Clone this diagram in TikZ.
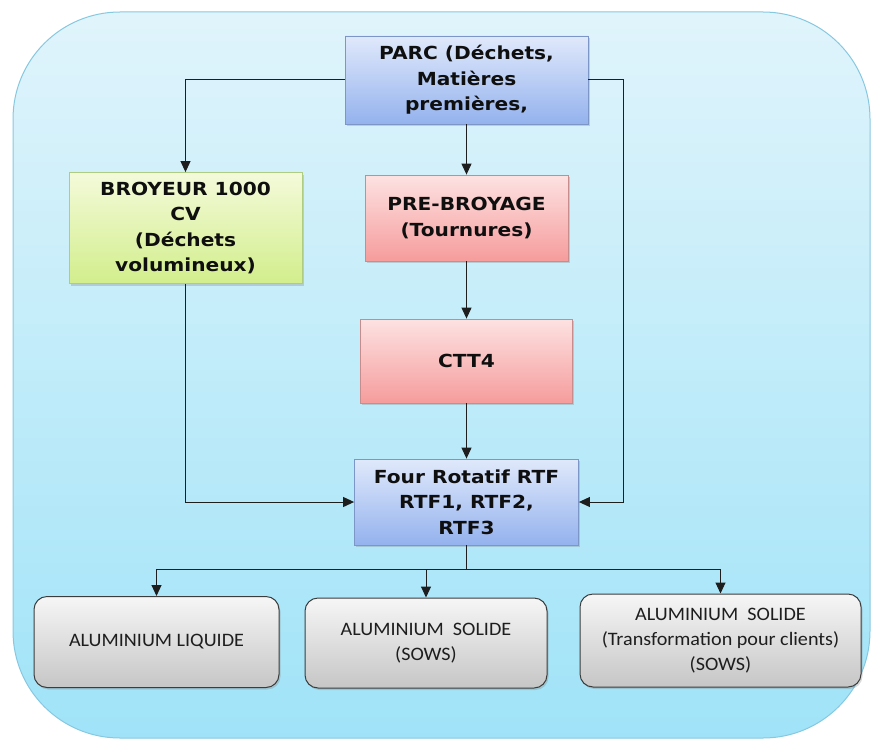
\documentclass[tikz,border=0pt]{standalone}
\usepackage{fontspec}
\usetikzlibrary{arrows.meta,shadows}
\newfontfamily\boxfont{DejaVu Sans}[FakeStretch=1.12]
\newfontfamily\calfont{Carlito}[FakeStretch=1.06]
\definecolor{bgtop}{RGB}{224,244,251}
\definecolor{bgbot}{RGB}{160,227,248}
\definecolor{bgline}{RGB}{135,200,225}
\definecolor{bluetop}{RGB}{224,233,251}
\definecolor{bluebot}{RGB}{148,178,238}
\definecolor{blueline}{RGB}{125,150,200}
\definecolor{greentop}{RGB}{244,250,218}
\definecolor{greenbot}{RGB}{210,238,140}
\definecolor{greenline}{RGB}{175,205,130}
\definecolor{redtop}{RGB}{253,226,226}
\definecolor{redbot}{RGB}{246,156,156}
\definecolor{redline}{RGB}{200,140,140}
\definecolor{graytop}{RGB}{246,246,246}
\definecolor{graybot}{RGB}{198,198,198}
\definecolor{grayline}{RGB}{60,60,60}
\definecolor{arrcol}{RGB}{30,30,30}
\begin{document}
\begin{tikzpicture}[x=1pt,y=-1pt,
  boxbase/.style={inner sep=0pt, align=center,
    drop shadow={shadow xshift=1.5pt, shadow yshift=-2pt, opacity=0.3}},
  topfont/.style={font=\boxfont\bfseries\fontsize{18}{25.5}\selectfont, text={rgb,255:red,15;green,15;blue,15}},
  bluebox/.style={boxbase, topfont, draw=blueline, line width=0.8pt, top color=bluetop, bottom color=bluebot},
  greenbox/.style={boxbase, topfont, draw=greenline, line width=0.8pt, top color=greentop, bottom color=greenbot},
  redbox/.style={boxbase, topfont, draw=redline, line width=0.8pt, top color=redtop, bottom color=redbot},
  graybox/.style={boxbase, draw=grayline, line width=1pt, rounded corners=13pt,
    top color=graytop, bottom color=graybot,
    font=\calfont\fontsize{19}{25}\selectfont, text={rgb,255:red,30;green,30;blue,30}},
  arr/.style={draw=arrcol, line width=1pt, -{Triangle[length=11pt,width=10pt]}},
  plain/.style={draw=arrcol, line width=1pt}
]
\useasboundingbox (0,0) rectangle (874,741);
% background panel
\path[draw=bgline, line width=1pt, top color=bgtop, bottom color=bgbot, rounded corners=107pt]
  (13,12) rectangle (870,738);

% nodes
\node[bluebox, minimum width=243pt, minimum height=88pt] (parc) at (466.5,80)
  {PARC (Déchets,\\Matières\\premières,};
\node[greenbox, minimum width=233pt, minimum height=111pt] (broy) at (185.5,228)
  {BROYEUR 1000\\CV\\(Déchets\\volumineux)};
\node[redbox, minimum width=203pt, minimum height=86pt] (pre) at (466.5,218)
  {PRE-BROYAGE\\(Tournures)};
\node[redbox, minimum width=212pt, minimum height=84pt] (ctt) at (466.5,361)
  {CTT4};
\node[bluebox, minimum width=224pt, minimum height=86pt] (four) at (466.5,502)
  {Four Rotatif RTF\\RTF1, RTF2,\\RTF3};
\node[graybox, minimum width=245pt, minimum height=91pt] (liq) at (156.5,642)
  {ALUMINIUM LIQUIDE};
\node[graybox, minimum width=242pt, minimum height=90pt] (sol) at (426,643)
  {ALUMINIUM~~SOLIDE\\(SOWS)};
\node[graybox, minimum width=281pt, minimum height=93pt] (cli) at (720.5,640.5)
  {ALUMINIUM~~SOLIDE\\(Transformation pour clients)\\(SOWS)};

% connectors
\draw[arr] (parc.west) -| (broy.north);
\draw[arr] (parc.south) -- (pre.north);
\draw[arr] (pre.south) -- (ctt.north);
\draw[arr] (ctt.south) -- (four.north);
\draw[arr] (broy.south) |- (four.west);
\draw[arr] (parc.east) -- ++(35,0) |- (four.east);
\coordinate (j) at (466.5,569);
\draw[plain] (four.south) -- (j);
\draw[arr] (j) -| (liq.north);
\draw[arr] (j) -| (sol.north);
\draw[arr] (j) -| (cli.north);
\end{tikzpicture}
\end{document}
